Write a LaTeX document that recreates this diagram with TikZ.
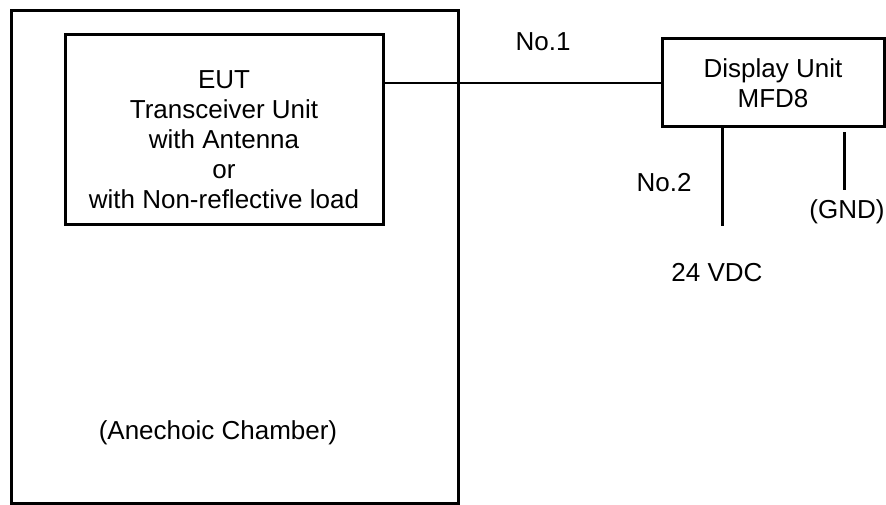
\documentclass[tikz,border=0pt]{standalone}
\usepackage{fontspec}
\setmainfont{Liberation Sans}
\usetikzlibrary{positioning}

\begin{document}
\begin{tikzpicture}[x=1pt,y=-1pt]
\tikzset{unitbox/.style={draw, line width=3pt, inner sep=0pt},
  lbl/.style={inner sep=0.75pt, align=center, font=\fontsize{26}{30}\selectfont}}
\useasboundingbox (0,0) rectangle (886,505);
% chamber
\draw [line width=3pt] (11,11) rectangle (458,503);
\node (eut) [unitbox, minimum width=318pt, minimum height=190pt] at (224,130) {};
\node (euttxt) [lbl] at (224,140) {EUT\\Transceiver Unit\\with Antenna\\or\\with Non-reflective load};
\node (disp) [unitbox, minimum width=222pt, minimum height=88pt, lbl, line width=3pt] at (773,83) {Display Unit\\MFD8};
\coordinate (vdc) at (722,226);
\coordinate (gnd) at (844,190);
% cables
\draw [line width=2pt] (disp.west) -- (disp.west -| eut.east);
\draw [line width=3pt] (disp.south -| vdc) -- (vdc);
\draw [line width=3pt] ([yshift=-4pt]disp.south -| gnd) -- (gnd);
\node (no1) [lbl] at (543,42) {No.1};
\node (no2) [lbl] at (664,183) {No.2};
\node (gndtxt) [lbl] at (847,212) {(GND)};
\node (vdctxt) [lbl] at (717,273) {24 VDC};
\node (room) [lbl] at (218,433) {(Anechoic Chamber)};
\end{tikzpicture}
\end{document}
